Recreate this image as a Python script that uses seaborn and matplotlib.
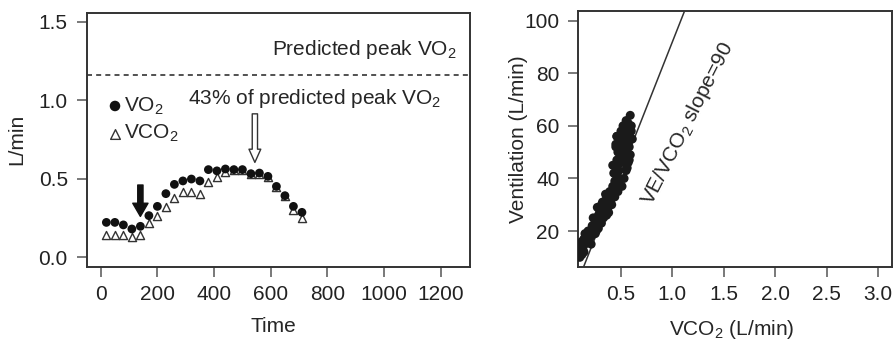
import matplotlib
matplotlib.use("Agg")
import matplotlib.pyplot as plt
import seaborn as sns

# Left panel: VO2 / VCO2 over time (30 s samples)
time_s = [20, 50, 80, 110, 140, 170, 200, 230, 260, 290, 320, 350,
          380, 410, 440, 470, 500, 530, 560, 590, 620, 650, 680, 710]
vo2 = [0.222, 0.222, 0.206, 0.18, 0.197, 0.265, 0.324, 0.405, 0.464, 0.486, 0.498, 0.486,
       0.558, 0.55, 0.562, 0.558, 0.558, 0.532, 0.536, 0.515, 0.451, 0.392, 0.324, 0.286]
vco2 = [0.142, 0.142, 0.142, 0.13, 0.142, 0.219, 0.26, 0.32, 0.38, 0.413, 0.413, 0.405,
        0.481, 0.511, 0.545, 0.555, 0.555, 0.53, 0.53, 0.51, 0.45, 0.39, 0.30, 0.248]
predicted_peak = 1.161
start_time, start_top, start_tip = 140, 0.46, 0.26
peak_time, peak_top, peak_tip = 544, 0.913, 0.604

# Right panel: ventilation vs VCO2
ve_vco2 = [0.09, 0.10, 0.11, 0.12, 0.13, 0.14, 0.12, 0.15, 0.16, 0.10, 0.14, 0.17,
           0.19, 0.20, 0.22, 0.21, 0.24, 0.25, 0.23, 0.27, 0.28, 0.26, 0.30, 0.29,
           0.31, 0.33, 0.32, 0.35, 0.36, 0.34, 0.38, 0.39, 0.37, 0.40,
           0.41, 0.42, 0.43, 0.44, 0.45, 0.46, 0.43, 0.47, 0.45, 0.48, 0.46, 0.49, 0.50,
           0.53, 0.56, 0.58, 0.47, 0.49, 0.48, 0.50, 0.51, 0.52, 0.53, 0.50, 0.54, 0.55,
           0.52, 0.56, 0.57, 0.55, 0.58, 0.59, 0.57, 0.53, 0.56, 0.58, 0.46, 0.45, 0.60, 0.61,
           0.28, 0.31, 0.36, 0.38, 0.41, 0.44, 0.47, 0.51, 0.55, 0.57, 0.59, 0.60,
           0.45, 0.46, 0.42, 0.35, 0.31, 0.27, 0.18, 0.15, 0.21, 0.19, 0.33, 0.25]
ve = [11, 12, 14, 16, 13, 17, 11, 15, 18, 10, 12, 16,
      18, 20, 22, 18, 21, 24, 25, 23, 26, 20, 25, 28,
      27, 29, 31, 30, 33, 26, 32, 35, 28, 31,
      34, 37, 33, 39, 36, 41, 42, 38, 45, 43, 47, 40, 46,
      40, 44, 47, 50, 52, 55, 49, 54, 51, 57, 58, 53, 56,
      60, 59, 61, 62, 57, 64, 54, 47, 50, 52, 56, 53, 58, 55,
      21, 23, 26, 27, 30, 33, 35, 37, 43, 46, 49, 60,
      52, 56, 45, 34, 30, 29, 20, 19, 15, 16, 25, 19]
slope_x = [0.137, 1.115]
slope_y = [6.4, 103.4]

sns.set_theme(style="white")
plt.rcParams["font.family"] = ["Liberation Sans", "DejaVu Sans"]
plt.rcParams["mathtext.fontset"] = "custom"
plt.rcParams["mathtext.rm"] = "Liberation Sans"
plt.rcParams["mathtext.it"] = "Liberation Sans:italic"
plt.rcParams["font.size"] = 15

fig = plt.figure(figsize=(8.93, 3.4), dpi=100)
ax1 = fig.add_axes([0.0969, 0.2156, 0.4294, 0.7462])
ax2 = fig.add_axes([0.6478, 0.2156, 0.3512, 0.7506])

for ax in (ax1, ax2):
    for sp in ax.spines.values():
        sp.set_color("#333333")
        sp.set_linewidth(1.4)
    ax.tick_params(direction="out", length=7.5, width=1.1, color="#555555",
                   labelsize=15, labelcolor="#222222", pad=6,
                   bottom=True, left=True)

# ---- left panel
sns.scatterplot(x=time_s, y=vco2, ax=ax1, marker="^", s=34, facecolor="white",
                edgecolor="#333333", linewidth=1.0, label="VCO$_2$", zorder=3)
sns.scatterplot(x=time_s, y=vo2, ax=ax1, marker="o", s=40, color="#111111",
                edgecolor="none", label="VO$_2$", zorder=4)
ax1.axhline(predicted_peak, color="#333333", lw=1.2, ls=(0, (3, 2.5)))
ax1.text(1257, 1.32, "Predicted peak VO$_2$", ha="right", va="center", fontsize=15)
ax1.text(1200, 1.01, "43% of predicted peak VO$_2$", ha="right", va="center", fontsize=15)

ax1.annotate("", xy=(start_time, start_tip), xytext=(start_time, start_top),
             arrowprops=dict(arrowstyle="simple,head_length=9.5,head_width=11,tail_width=3.8",
                             mutation_scale=1, fc="#111111", ec="#111111",
                             shrinkA=0, shrinkB=0), zorder=5)
ax1.annotate("", xy=(peak_time, peak_tip), xytext=(peak_time, peak_top),
             arrowprops=dict(arrowstyle="simple,head_length=9.5,head_width=8.5,tail_width=3.8",
                             mutation_scale=1, fc="white", ec="#333333", lw=1.0,
                             shrinkA=0, shrinkB=0), zorder=5)

handles, labels = ax1.get_legend_handles_labels()
ax1.legend(handles[::-1], labels[::-1], loc="upper left", bbox_to_anchor=(0.0525, 0.675),
           frameon=False, borderpad=0, borderaxespad=0, handlelength=0.8,
           handletextpad=0.05, labelspacing=0.3, fontsize=15, markerscale=1.2)

ax1.set_xlim(-50, 1303)
ax1.set_ylim(-0.06, 1.555)
ax1.set_xticks([0, 200, 400, 600, 800, 1000, 1200])
ax1.set_yticks([0.0, 0.5, 1.0, 1.5])
ax1.set_yticklabels(["0.0", "0.5", "1.0", "1.5"])
ax1.set_xlabel("Time", fontsize=15)
ax1.set_ylabel("L/min", fontsize=15)
ax1.xaxis.set_label_coords(0.487, -0.2)
ax1.yaxis.set_label_coords(-0.157, 0.5)

# ---- right panel
sns.lineplot(x=slope_x, y=slope_y, ax=ax2, color="#333333", lw=1.1, zorder=2)
sns.scatterplot(x=ve_vco2, y=ve, ax=ax2, s=42, color="#1a1a1a", edgecolor="none", zorder=3)
ax2.text(1.15, 60.7, "VE/VCO$_2$ slope=90", rotation=63, ha="center", va="center",
         fontsize=15, rotation_mode="anchor")

ax2.set_xlim(0.087, 3.135)
ax2.set_ylim(6.43, 103.5)
ax2.set_xticks([0.5, 1.0, 1.5, 2.0, 2.5, 3.0])
ax2.set_yticks([20, 40, 60, 80, 100])
ax2.set_xlabel("VCO$_2$ (L/min)", fontsize=15)
ax2.set_ylabel("Ventilation (L/min)", fontsize=15)
ax2.xaxis.set_label_coords(0.49, -0.2)
ax2.yaxis.set_label_coords(-0.161, 0.5)

fig.savefig("out.png", dpi=100)
